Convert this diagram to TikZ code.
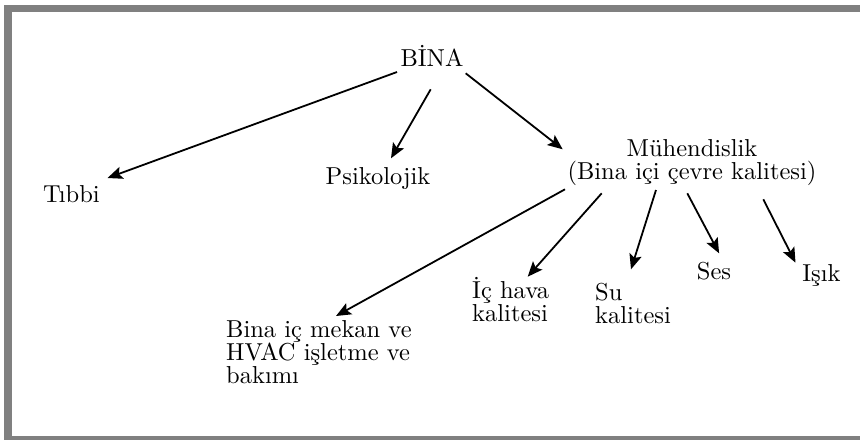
\documentclass[tikz,border=0pt]{standalone}
\usepackage{fontspec}
\setmainfont{lmroman10-regular}[Extension=.otf]
\usetikzlibrary{arrows.meta}
\tikzset{
  lbl/.style={inner sep=0pt, font=\fontsize{24.5}{23}\selectfont},
  blk/.style={lbl, text width=#1, align=left},
  arr/.style={line width=1.8pt, -{Stealth[length=15pt,width=12.5pt,inset=3pt]}},
  framebar/.style={fill=gray, draw=none}
}
\begin{document}
\begin{tikzpicture}[x=1pt,y=-1pt]
\useasboundingbox (0,0) rectangle (860,440);
\path[framebar] (4,5) rectangle (12,440);
\path[framebar] (4,5) rectangle (860,12.3);
\path[framebar] (4,436) rectangle (860,440);
\node[lbl, anchor=base] (bina) at (432,66) {BİNA};
\node[lbl, anchor=base] (tibbi) at (71.5,202) {Tıbbi};
\node[lbl, anchor=base] (psi) at (378,184) {Psikolojik};
\node[lbl, text width=280pt, align=center, anchor=base] (muh) at (692,156) {Mühendislik\\(Bina içi çevre kalitesi)};
\node[blk=220pt, anchor=base west] (bim) at (226,337) {Bina iç mekan ve\\HVAC işletme ve\\bakımı};
\node[blk=110pt, anchor=base west] (ich) at (472,298) {İç hava\\kalitesi};
\node[blk=110pt, anchor=base west] (su) at (595,300) {Su\\kalitesi};
\node[lbl, anchor=base] (ses) at (714,279) {Ses};
\node[lbl, anchor=base] (isik) at (821.5,281.7) {Işık};
\draw[arr] ([shift={(-35,6)}]bina.base) -- ([shift={(36,-24)}]tibbi.base);
\draw[arr] ([shift={(-1.3,23.3)}]bina.base) -- ([shift={(13,-25.7)}]psi.base);
\draw[arr] ([shift={(33.7,7.3)}]bina.base) -- ([shift={(-129.3,-6.7)}]muh.base);
\draw[arr] ([shift={(-127,33.3)}]muh.base) -- ([shift={(110,-21)}]bim.base west);
\draw[arr] ([shift={(-90.3,37.3)}]muh.base) -- ([shift={(55.7,-21.3)}]ich.base west);
\draw[arr] ([shift={(-36,34)}]muh.base) -- ([shift={(36,-30.7)}]su.base west);
\draw[arr] ([shift={(-4.7,37.3)}]muh.base) -- ([shift={(5.1,-25.7)}]ses.base);
\draw[arr] ([shift={(71.3,43.3)}]muh.base) -- ([shift={(-26,-19)}]isik.base);
\end{tikzpicture}
\end{document}
